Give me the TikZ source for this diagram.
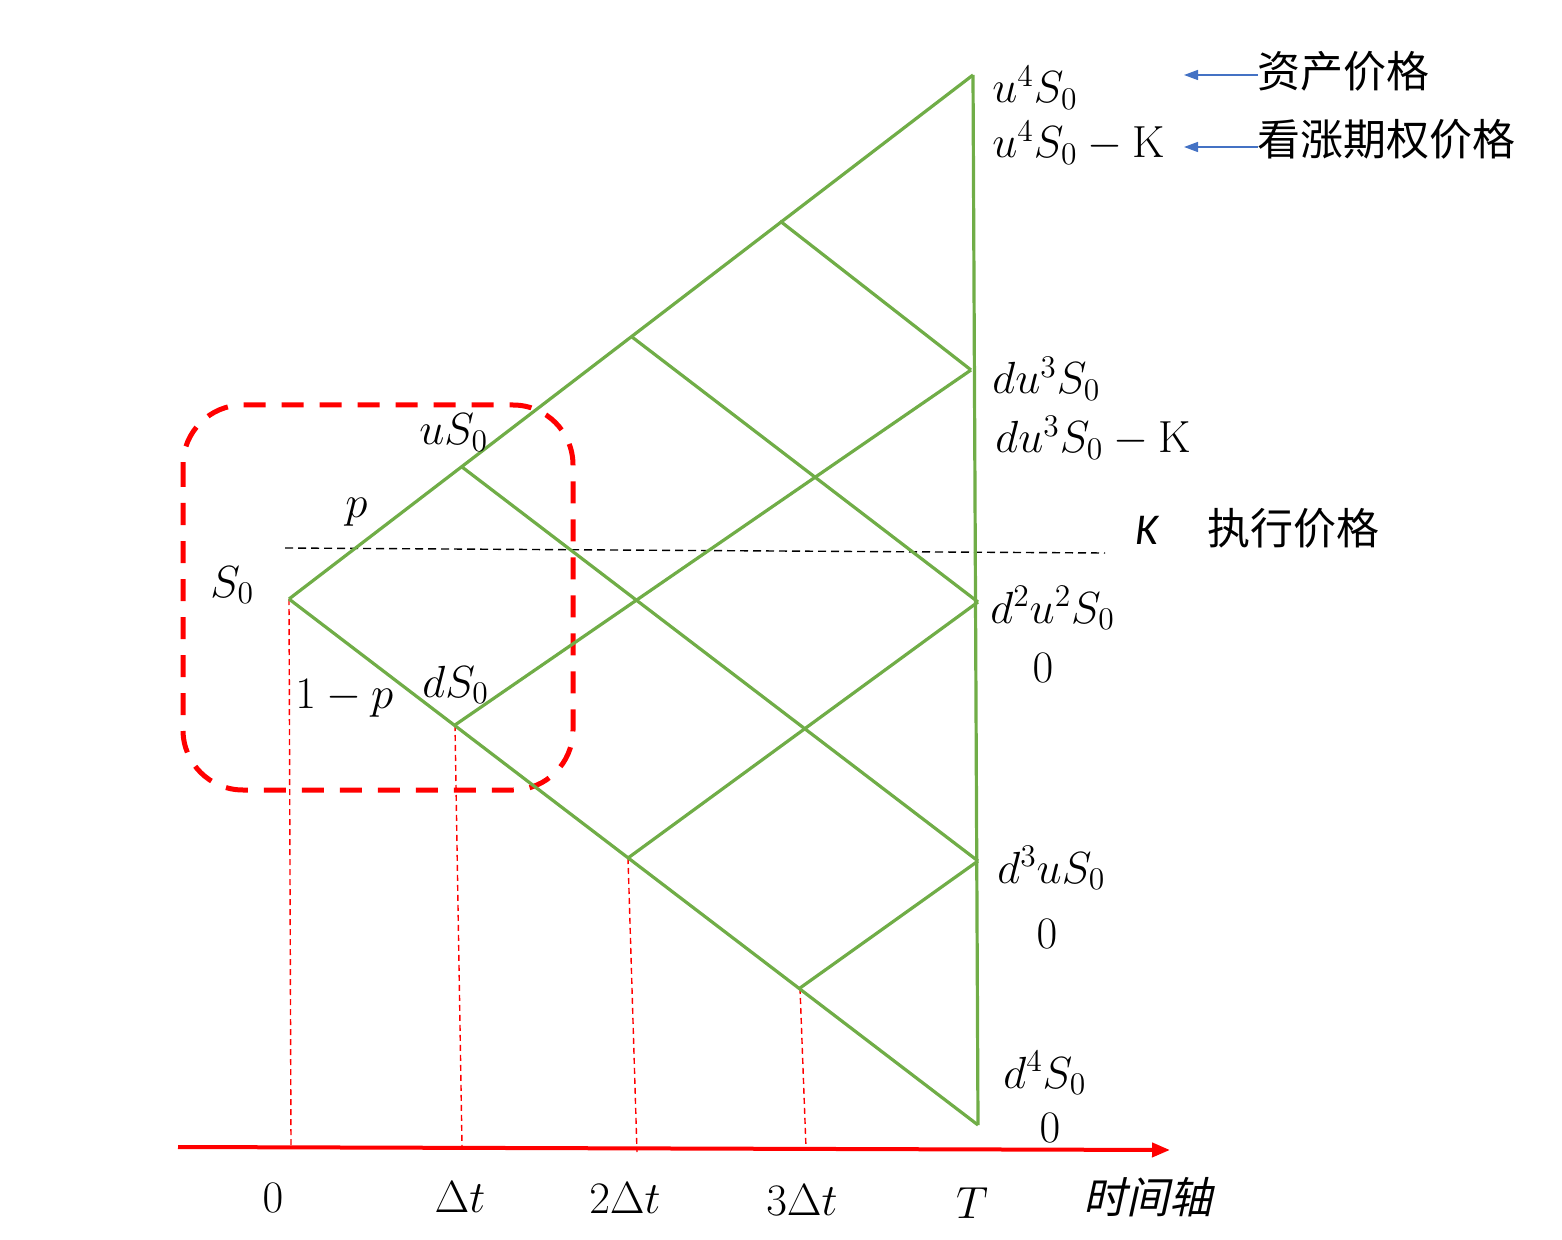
\RequirePackage{fix-cm}
\documentclass[tikz,border=0pt]{standalone}
\usepackage{fontspec}
\usepackage{amsmath}
\newfontfamily\cjk{Noto Sans CJK SC}
\newfontfamily\cjkit[FakeSlant=0.22]{Noto Sans CJK SC}
\newfontfamily\carlito{Carlito}
\usetikzlibrary{arrows.meta}
\definecolor{treegreen}{HTML}{70AD47}
\definecolor{arrowblue}{HTML}{4472C4}
\definecolor{boxred}{HTML}{FF0000}
\tikzset{
  tree/.style={draw=treegreen, line width=1.6pt},
  guide/.style={draw=boxred, line width=0.7pt, dash pattern=on 3pt off 2pt},
  strike/.style={draw=black, line width=0.7pt, dash pattern=on 4pt off 2.5pt},
  timeaxis/.style={draw=boxred, line width=2pt, -{Triangle[length=9pt,width=7pt]}},
  callout/.style={draw=arrowblue, line width=0.7pt, -{Triangle[length=7pt,width=5pt]}},
  frame/.style={draw=boxred, line width=2.5pt, dash pattern=on 11pt off 8pt, rounded corners=30pt},
  lbl/.style={inner sep=0pt, anchor=base west},
  lblc/.style={inner sep=0pt, anchor=base},
  cjklbl/.style={inner sep=0pt, anchor=west, font=\fontsize{21.5}{25}\cjk}
}
\begin{document}
\begin{tikzpicture}[x=0.5pt,y=-0.5pt, font=\fontsize{22.5}{26}\selectfont]
\useasboundingbox (0,0) rectangle (1562,1240);
% tree points
\coordinate (r) at (289,599);
\coordinate (u1) at (462,467);
\coordinate (d1) at (455,725);
\coordinate (uu) at (632,337);
\coordinate (dd) at (628,858);
\coordinate (uuu) at (780,221);
\coordinate (ddd) at (800,988);
\coordinate (n4) at (973,75);
\coordinate (n3) at (971,370);
\coordinate (n2) at (978,602);
\coordinate (n1) at (978,861);
\coordinate (n0) at (978,1125);
% guide feet
\coordinate (g0) at (291,1146);
\coordinate (g1) at (462,1146);
\coordinate (g2) at (637,1152);
\coordinate (g3) at (806,1148);
% axis
\coordinate (ax0) at (178,1147);
\coordinate (ax1) at (1170,1150);
% strike line
\coordinate (k0) at (285,548);
\coordinate (k1) at (1105,553);
% callouts
\coordinate (c1a) at (1258,75);
\coordinate (c1b) at (1184,75);
\coordinate (c2a) at (1258,147);
\coordinate (c2b) at (1184,147);

% red dashed box
\draw[frame] (183,405) rectangle (573,790);

% strike
\draw[strike] (k0) -- (k1);

% guides
\draw[guide] (r) -- (g0);
\draw[guide] (d1) -- (g1);
\draw[guide] (dd) -- (g2);
\draw[guide] (ddd) -- (g3);

% tree
\draw[tree] (r) -- (n4);
\draw[tree] (r) -- (n0);
\draw[tree] (u1) -- (n1);
\draw[tree] (uu) -- (n2);
\draw[tree] (uuu) -- (n3);
\draw[tree] (d1) -- (n3);
\draw[tree] (dd) -- (n2);
\draw[tree] (ddd) -- (n1);
\draw[tree] (n4) -- (n0);

% axis
\draw[timeaxis] (ax0) -- (ax1);

% callouts
\draw[callout] (c1a) -- (c1b);
\draw[callout] (c2a) -- (c2b);

% right labels
\node[lbl] (l4a) at (992,103) {$u^4S_0$};
\node[lbl] (l4b) at (992,158) {$u^4S_0-\mathrm{K}$};
\node[cjklbl] (t1) at (1257,71) {资产价格};
\node[cjklbl] (t2) at (1257,139) {看涨期权价格};
\node[lbl] (l3a) at (992,394) {$du^3S_0$};
\node[lbl] (l3b) at (995,453) {$du^3S_0-\mathrm{K}$};
\node[lbl, font=\fontsize{22}{25}\carlito\itshape] (kk) at (1135,545) {K};
\node[cjklbl] (t3) at (1207,528) {执行价格};
\node[lbl] (l2a) at (990,623) {$d^2u^2S_0$};
\node[lblc] (l2b) at (1043,682) {$0$};
\node[lbl] (l1a) at (997,883) {$d^3uS_0$};
\node[lblc] (l1b) at (1047,948) {$0$};
\node[lbl] (l0a) at (1003,1088) {$d^4S_0$};
\node[lblc] (l0b) at (1050,1142) {$0$};

% left labels
\node[lbl] (s0) at (210,597) {$S_0$};
\node[lbl] (us0) at (419,445) {$uS_0$};
\node[lbl] (pp) at (345,517) {$p$};
\node[lbl] (qq) at (295,708) {$1-p$};
\node[lbl] (ds0) at (422,697) {$dS_0$};

% axis labels
\node[lblc] (a0) at (273,1212) {$0$};
\node[lblc] (a1) at (460,1212) {$\Delta t$};
\node[lblc] (a2) at (625,1213) {$2\Delta t$};
\node[lblc] (a3) at (802,1215) {$3\Delta t$};
\node[lblc] (a4) at (972,1218) {$T$};
\node[cjklbl, font=\fontsize{21.5}{25}\cjkit] (a5) at (1083,1197) {时间轴};
\end{tikzpicture}
\end{document}
